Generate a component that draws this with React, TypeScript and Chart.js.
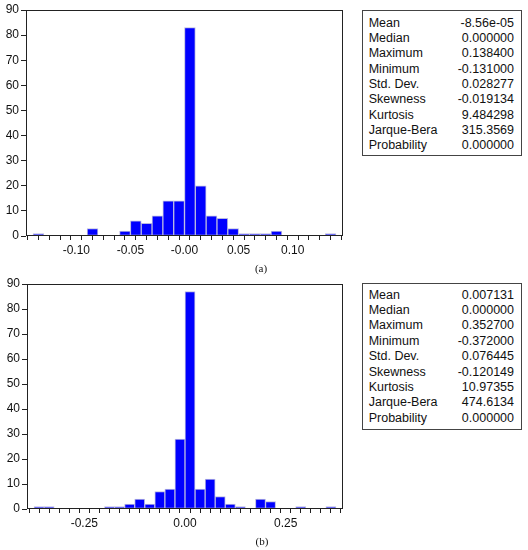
import React, { useEffect, useRef } from "react";
import { Chart, registerables } from "chart.js";
Chart.register(...registerables);

// ---- data: histogram (a) ----
const binStartA = -0.14;
const binWidthA = 0.01;
const countsA = [1, 0, 0, 0, 0, 3, 0, 0, 2, 6, 5, 8, 14, 14, 83, 20, 8, 7, 3, 1, 1, 1, 2, 0, 0, 0, 0, 1];
const tickValuesA = [-0.1, -0.05, 0, 0.05, 0.1];
const tickLabelsA = ["-0.10", "-0.05", "-0.00", "0.05", "0.10"];

// ---- data: histogram (b) ----
const binStartB = -0.375;
const binWidthB = 0.025;
const countsB = [1, 1, 0, 0, 0, 0, 0, 1, 1, 2, 4, 2, 7, 8, 28, 87, 8, 12, 5, 2, 1, 0, 4, 3, 0, 0, 1, 0, 0, 1];
const tickValuesB = [-0.25, 0, 0.25];
const tickLabelsB = ["-0.25", "0.00", "0.25"];

const yTickValues = [0, 10, 20, 30, 40, 50, 60, 70, 80, 90];

// ---- statistics ----
const statLabels = ["Mean", "Median", "Maximum", "Minimum", "Std. Dev.", "Skewness", "Kurtosis", "Jarque-Bera", "Probability"];
const statsA = ["-8.56e-05", "0.000000", "0.138400", "-0.131000", "0.028277", "-0.019134", "9.484298", "315.3569", "0.000000"];
const statsB = ["0.007131", "0.000000", "0.352700", "-0.372000", "0.076445", "-0.120149", "10.97355", "474.6134", "0.000000"];

const FONT = "'Liberation Sans', Arial, sans-serif";

const framePlugin = {
  id: "frame",
  afterDraw(chart: any) {
    const { ctx, chartArea } = chart;
    const l = Math.round(chartArea.left) + 0.5;
    const t = Math.round(chartArea.top) + 0.5;
    const r = Math.round(chartArea.right) - 0.5;
    const b = Math.round(chartArea.bottom) - 0.5;
    ctx.save();
    ctx.strokeStyle = "#222";
    ctx.lineWidth = 1;
    ctx.strokeRect(l, t, r - l, b - t);
    ctx.restore();
  },
};

type HistProps = {
  counts: number[];
  binStart: number;
  binWidth: number;
  tickValues: number[];
  tickLabels: string[];
  xMin: number;
  xMax: number;
  left: number;
  top: number;
  width: number;
  height: number;
  yAxisWidth: number;
  xAxisHeight: number;
  padTop: number;
  padRight: number;
};

function Histogram(p: HistProps) {
  const ref = useRef<HTMLCanvasElement | null>(null);
  useEffect(() => {
    if (!ref.current) return;
    const r6 = (v: number) => Math.round(v * 1e6) / 1e6;
    const points = p.counts
      .map((c, i) => ({ x: r6(p.binStart + (i + 0.5) * p.binWidth), y: c }))
      .filter((d) => d.y > 0);
    const edges = [...p.counts.map((_, i) => r6(p.binStart + i * p.binWidth)), r6(p.binStart + p.counts.length * p.binWidth)];
    const chart = new Chart(ref.current, {
      type: "bar",
      data: {
        datasets: [
          {
            data: points as any,
            backgroundColor: "#0000ff",
            borderColor: "#b8b8e0",
            borderWidth: 1,
            borderSkipped: false,
            barPercentage: 1,
            categoryPercentage: 1,
          },
        ],
      },
      options: {
        animation: false,
        responsive: true,
        maintainAspectRatio: false,
        layout: { padding: { top: p.padTop, right: p.padRight, left: 0, bottom: 0 } },
        plugins: { legend: { display: false }, tooltip: { enabled: false } },
        scales: {
          x: {
            type: "linear",
            min: p.xMin,
            max: p.xMax,
            offset: false,
            afterBuildTicks: (s: any) => {
              s.ticks = edges.map((v) => ({ value: v }));
            },
            afterFit: (s: any) => {
              s.height = p.xAxisHeight;
            },
            ticks: {
              autoSkip: false,
              maxRotation: 0,
              padding: 3,
              color: "#111",
              font: { family: FONT, size: 12 },
              callback: (v: any) => {
                const i = p.tickValues.findIndex((t) => Math.abs(t - Number(v)) < 1e-9);
                return i >= 0 ? p.tickLabels[i] : "";
              },
            },
            grid: { drawOnChartArea: false, drawTicks: true, tickLength: 4, color: "#222" },
            border: { display: false },
          },
          y: {
            type: "linear",
            min: 0,
            max: 90,
            afterBuildTicks: (s: any) => {
              s.ticks = yTickValues.map((v) => ({ value: v }));
            },
            afterFit: (s: any) => {
              s.width = p.yAxisWidth;
            },
            ticks: {
              padding: 2,
              color: "#111",
              font: { family: FONT, size: 12 },
            },
            grid: { drawOnChartArea: false, drawTicks: true, tickLength: 5, color: "#222" },
            border: { display: false },
          },
        },
      },
      plugins: [framePlugin],
    });
    return () => chart.destroy();
  }, []);
  return (
    <div style={{ position: "absolute", left: p.left, top: p.top, width: p.width, height: p.height }}>
      <canvas ref={ref} />
    </div>
  );
}

function StatsBox({ values, left, top, width, height, padTop }: { values: string[]; left: number; top: number; width: number; height: number; padTop: number }) {
  return (
    <div
      style={{
        position: "absolute",
        left,
        top,
        width,
        height,
        boxSizing: "border-box",
        border: "1px solid #444",
        padding: `${padTop}px 7px 0 5.7px`,
        fontFamily: FONT,
        fontSize: 12.5,
        color: "#111",
        background: "#fff",
      }}
    >
      {statLabels.map((lab, i) => (
        <div key={lab} style={{ display: "flex", justifyContent: "space-between", height: 15.35, lineHeight: "15.35px", whiteSpace: "nowrap" }}>
          <span>{lab}</span>
          <span>{values[i]}</span>
        </div>
      ))}
    </div>
  );
}

export default function App() {
  return (
    <div style={{ position: "absolute", left: 0, top: 0, width: 528, height: 550, background: "#fff", overflow: "hidden" }}>
      <Histogram
        counts={countsA}
        binStart={binStartA}
        binWidth={binWidthA}
        tickValues={tickValuesA}
        tickLabels={tickLabelsA}
        xMin={-0.1465}
        xMax={0.1465}
        left={0}
        top={0}
        width={350}
        height={262}
        yAxisWidth={26}
        xAxisHeight={26}
        padTop={10}
        padRight={7}
      />
      <StatsBox values={statsA} left={362} top={10} width={160} height={146} padTop={4.6} />
      <div style={{ position: "absolute", left: 241, top: 261, width: 40, textAlign: "center", fontFamily: "'Liberation Serif', serif", fontSize: 11, lineHeight: "14px", color: "#111" }}>
        (a)
      </div>

      <Histogram
        counts={countsB}
        binStart={binStartB}
        binWidth={binWidthB}
        tickValues={tickValuesB}
        tickLabels={tickLabelsB}
        xMin={-0.3925}
        xMax={0.3925}
        left={0}
        top={274}
        width={350}
        height={262}
        yAxisWidth={27}
        xAxisHeight={27}
        padTop={10}
        padRight={7}
      />
      <StatsBox values={statsB} left={362} top={283} width={160} height={147} padTop={3.8} />
      <div style={{ position: "absolute", left: 242, top: 534, width: 40, textAlign: "center", fontFamily: "'Liberation Serif', serif", fontSize: 11, lineHeight: "14px", color: "#111" }}>
        (b)
      </div>
    </div>
  );
}
